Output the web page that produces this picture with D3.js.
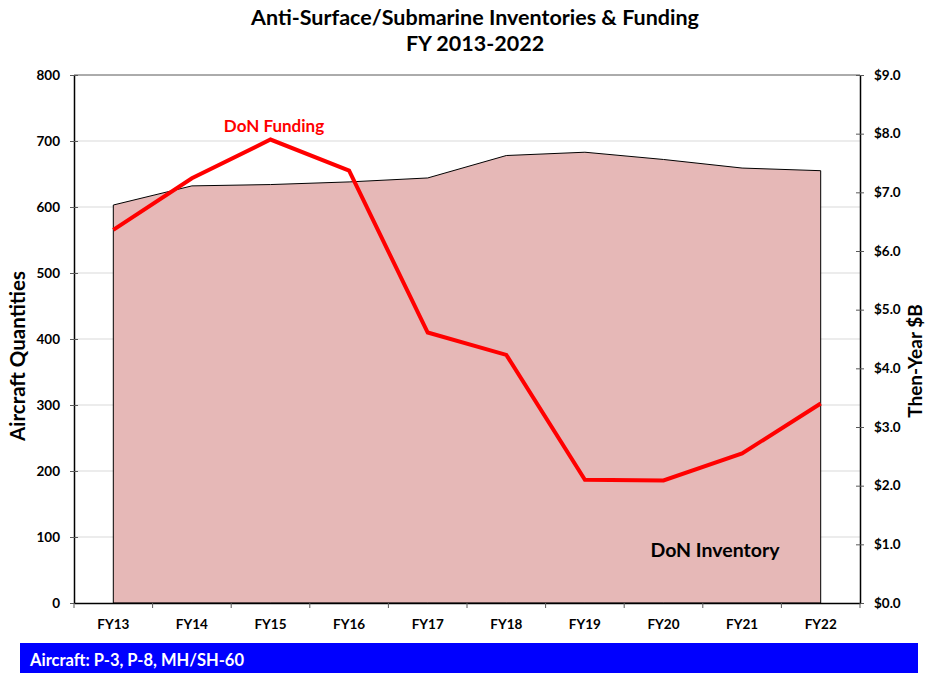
<!DOCTYPE html>
<html>
<head>
<meta charset="utf-8">
<script src="https://cdn.jsdelivr.net/npm/d3@7"></script>
<style>
  body { margin: 0; background: #fff; }
  svg text { font-family: Lato, "Open Sans", sans-serif; font-weight: bold; }
</style>
</head>
<body>
<div class="chart"></div>
<script>
// data
const years = ["FY13", "FY14", "FY15", "FY16", "FY17", "FY18", "FY19", "FY20", "FY21", "FY22"];
const inventory = [603, 632, 634, 638, 644, 678, 683, 672, 659, 655];
const funding = [6.36, 7.24, 7.90, 7.37, 4.61, 4.23, 2.10, 2.09, 2.55, 3.40];
const leftTicks = [0, 100, 200, 300, 400, 500, 600, 700, 800];
const rightTicks = [0, 1, 2, 3, 4, 5, 6, 7, 8, 9];

const frame = { width: 928, height: 673, left: 74, right: 860, top: 75, bottom: 603 };

const svg = d3.select(".chart").append("svg")
  .attr("width", frame.width)
  .attr("height", frame.height);

const x = d3.scaleBand().domain(years).range([frame.left, frame.right]);
const yLeft = d3.scaleLinear().domain([0, 800]).range([frame.bottom, frame.top]);
const yRight = d3.scaleLinear().domain([0, 9]).range([frame.bottom, frame.top]);
const cx = d => x(d) + x.bandwidth() / 2;

// gridlines
svg.append("g").selectAll("line")
  .data(leftTicks.slice(1, -1))
  .join("line")
  .attr("x1", frame.left).attr("x2", frame.right)
  .attr("y1", d => yLeft(d)).attr("y2", d => yLeft(d))
  .attr("stroke", "#d9d9d9").attr("stroke-width", 1);

// inventory area
const area = d3.area()
  .x((d, i) => cx(years[i]))
  .y0(yLeft(0))
  .y1(d => yLeft(d));
svg.append("path")
  .datum(inventory)
  .attr("d", area)
  .attr("fill", "#e6b8b7")
  .attr("stroke", "#000")
  .attr("stroke-width", 1);

// plot frame top
svg.append("line")
  .attr("x1", frame.left).attr("x2", frame.right)
  .attr("y1", frame.top).attr("y2", frame.top)
  .attr("stroke", "#595959");

// left axis
const gl = svg.append("g")
  .attr("transform", `translate(${frame.left},0)`)
  .call(d3.axisLeft(yLeft).tickValues(leftTicks).tickSizeInner(4).tickSizeOuter(0).tickPadding(10));
gl.selectAll(".tick line").attr("x2", -4).attr("x1", 4);

// right axis
const gr = svg.append("g")
  .attr("transform", `translate(${frame.right},0)`)
  .call(d3.axisRight(yRight).tickValues(rightTicks).tickSizeInner(4).tickSizeOuter(0).tickPadding(10)
    .tickFormat(d => "$" + d3.format(".1f")(d)));
gr.selectAll(".tick line").attr("x1", -4).attr("x2", 4);

// bottom axis, ticks between categories
const gb = svg.append("g")
  .attr("transform", `translate(0,${frame.bottom})`)
  .call(d3.axisBottom(x).tickSize(0).tickPadding(16));
gb.append("g").selectAll("line")
  .data(years.concat(["end"]))
  .join("line")
  .attr("x1", (d, i) => frame.left + i * x.bandwidth())
  .attr("x2", (d, i) => frame.left + i * x.bandwidth())
  .attr("y1", 0).attr("y2", 5)
  .attr("stroke", "#595959");

[gl, gr, gb].forEach(g => {
  g.selectAll(".domain").attr("stroke", "#000").attr("stroke-width", 1.5);
  g.selectAll(".tick line").attr("stroke", "#595959");
  g.selectAll("text").attr("font-size", 13.5).attr("fill", "#000")
    .attr("font-family", "Lato, sans-serif").attr("font-weight", "bold");
});

// funding line
const line = d3.line()
  .x((d, i) => cx(years[i]))
  .y(d => yRight(d));
svg.append("path")
  .datum(funding)
  .attr("d", line)
  .attr("fill", "none")
  .attr("stroke", "#ff0000")
  .attr("stroke-width", 4)
  .attr("stroke-linejoin", "miter");

// labels
svg.append("text").text("DoN Funding")
  .attr("x", 274).attr("y", 132)
  .attr("text-anchor", "middle")
  .attr("font-size", 17)
  .attr("fill", "#ff0000");

svg.append("text").text("DoN Inventory")
  .attr("x", 715).attr("y", 557)
  .attr("text-anchor", "middle")
  .attr("font-size", 19.5)
  .attr("fill", "#000");

// titles
svg.append("text").text("Anti-Surface/Submarine Inventories & Funding")
  .attr("x", 475).attr("y", 25)
  .attr("text-anchor", "middle")
  .attr("font-size", 21.5);
svg.append("text").text("FY 2013-2022")
  .attr("x", 475).attr("y", 51)
  .attr("text-anchor", "middle")
  .attr("font-size", 21.5);

// axis titles
svg.append("text").text("Aircraft Quantities")
  .attr("transform", "translate(25,356) rotate(-90)")
  .attr("text-anchor", "middle")
  .attr("font-size", 20.5);
svg.append("text").text("Then-Year $B")
  .attr("transform", "translate(922,361) rotate(-90)")
  .attr("text-anchor", "middle")
  .attr("font-size", 19);

// footer band
svg.append("rect")
  .attr("x", 20).attr("y", 643)
  .attr("width", 898).attr("height", 30)
  .attr("fill", "#0000ff");
svg.append("text").text("Aircraft: P-3, P-8, MH/SH-60")
  .attr("x", 30).attr("y", 666)
  .attr("font-size", 16.5)
  .attr("fill", "#fff");
</script>
</body>
</html>
